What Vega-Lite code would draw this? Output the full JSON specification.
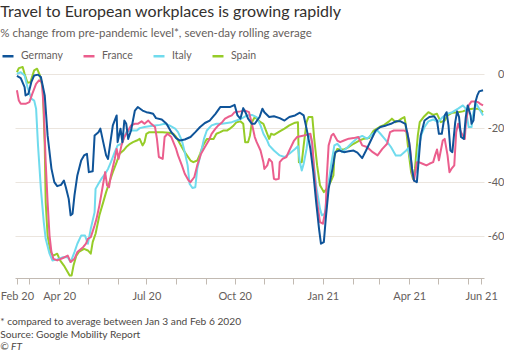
{
"$schema": "https://vega.github.io/schema/vega-lite/v6.json",
"padding": {"left": 0, "top": 3, "right": 0, "bottom": 0},
"background": "white",
"config": {"font": "Lato", "view": {"stroke": null}},
"title": {"text": "Travel to European workplaces is growing rapidly", "subtitle": "% change from pre-pandemic level*, seven-day rolling average", "anchor": "start", "fontSize": 16, "fontWeight": "normal", "color": "#33302e", "subtitleFontSize": 11.5, "subtitleColor": "#66605c", "subtitlePadding": 8, "offset": 10},
"vconcat": [{
"width": 469, "height": 212,
"title": {"text": ["* compared to average between Jan 3 and Feb 6 2020", "Source: Google Mobility Report"], "subtitle": "© FT", "orient": "bottom", "anchor": "start", "fontSize": 10.2, "fontWeight": "normal", "color": "#4d4845", "lineHeight": 13, "subtitleFontSize": 10.2, "subtitleFontStyle": "italic", "subtitleColor": "#4d4845", "subtitlePadding": 2, "subtitleLineHeight": 13, "offset": 16},
"data": {"values": [
{"c":"Spain","d":"2020-02-17","v":0.7},{"c":"Spain","d":"2020-02-19","v":2.2},{"c":"Spain","d":"2020-02-23","v":2.6},{"c":"Spain","d":"2020-02-25","v":0.1},{"c":"Spain","d":"2020-02-28","v":-3.2},{"c":"Spain","d":"2020-03-02","v":-3},{"c":"Spain","d":"2020-03-06","v":1.4},{"c":"Spain","d":"2020-03-09","v":2},{"c":"Spain","d":"2020-03-12","v":-0.5},{"c":"Spain","d":"2020-03-15","v":-5.4},{"c":"Spain","d":"2020-03-17","v":-26.4},{"c":"Spain","d":"2020-03-18","v":-47.4},{"c":"Spain","d":"2020-03-20","v":-59.8},{"c":"Spain","d":"2020-03-23","v":-65.9},{"c":"Spain","d":"2020-03-26","v":-67.2},{"c":"Spain","d":"2020-03-30","v":-66.5},{"c":"Spain","d":"2020-04-02","v":-69},{"c":"Spain","d":"2020-04-06","v":-70.9},{"c":"Spain","d":"2020-04-09","v":-72.7},{"c":"Spain","d":"2020-04-12","v":-74.6},{"c":"Spain","d":"2020-04-14","v":-74.6},{"c":"Spain","d":"2020-04-16","v":-70.9},{"c":"Spain","d":"2020-04-19","v":-67.2},{"c":"Spain","d":"2020-04-22","v":-65.7},{"c":"Spain","d":"2020-04-27","v":-64.7},{"c":"Spain","d":"2020-05-01","v":-65.3},{"c":"Spain","d":"2020-05-04","v":-66.5},{"c":"Spain","d":"2020-05-06","v":-62.2},{"c":"Spain","d":"2020-05-09","v":-59.1},{"c":"Spain","d":"2020-05-13","v":-52.3},{"c":"Spain","d":"2020-05-17","v":-47.4},{"c":"Spain","d":"2020-05-20","v":-43.7},{"c":"Spain","d":"2020-05-24","v":-39.4},{"c":"Spain","d":"2020-05-27","v":-36.3},{"c":"Spain","d":"2020-05-31","v":-32.6},{"c":"Spain","d":"2020-06-03","v":-29.5},{"c":"Spain","d":"2020-06-07","v":-28.3},{"c":"Spain","d":"2020-06-10","v":-27},{"c":"Spain","d":"2020-06-14","v":-25.8},{"c":"Spain","d":"2020-06-17","v":-25.2},{"c":"Spain","d":"2020-06-21","v":-24.6},{"c":"Spain","d":"2020-06-24","v":-24},{"c":"Spain","d":"2020-06-27","v":-26.4},{"c":"Spain","d":"2020-06-29","v":-25.2},{"c":"Spain","d":"2020-07-01","v":-22.1},{"c":"Spain","d":"2020-07-04","v":-21.5},{"c":"Spain","d":"2020-07-08","v":-21.5},{"c":"Spain","d":"2020-07-13","v":-21.5},{"c":"Spain","d":"2020-07-18","v":-21.5},{"c":"Spain","d":"2020-07-24","v":-21.7},{"c":"Spain","d":"2020-07-29","v":-22.1},{"c":"Spain","d":"2020-08-01","v":-23.3},{"c":"Spain","d":"2020-08-05","v":-25.8},{"c":"Spain","d":"2020-08-10","v":-28.9},{"c":"Spain","d":"2020-08-16","v":-32},{"c":"Spain","d":"2020-08-19","v":-32.6},{"c":"Spain","d":"2020-08-23","v":-32},{"c":"Spain","d":"2020-08-26","v":-29.5},{"c":"Spain","d":"2020-08-29","v":-26.4},{"c":"Spain","d":"2020-09-02","v":-24},{"c":"Spain","d":"2020-09-05","v":-24},{"c":"Spain","d":"2020-09-09","v":-24},{"c":"Spain","d":"2020-09-12","v":-22.1},{"c":"Spain","d":"2020-09-16","v":-21.5},{"c":"Spain","d":"2020-09-19","v":-20.9},{"c":"Spain","d":"2020-09-23","v":-20.9},{"c":"Spain","d":"2020-09-26","v":-20.2},{"c":"Spain","d":"2020-09-30","v":-19},{"c":"Spain","d":"2020-10-03","v":-17.8},{"c":"Spain","d":"2020-10-07","v":-17.5},{"c":"Spain","d":"2020-10-10","v":-18.4},{"c":"Spain","d":"2020-10-12","v":-25.2},{"c":"Spain","d":"2020-10-15","v":-25.2},{"c":"Spain","d":"2020-10-17","v":-22.7},{"c":"Spain","d":"2020-10-19","v":-17.8},{"c":"Spain","d":"2020-10-22","v":-15.9},{"c":"Spain","d":"2020-10-24","v":-16.5},{"c":"Spain","d":"2020-10-28","v":-17.8},{"c":"Spain","d":"2020-10-31","v":-18.4},{"c":"Spain","d":"2020-11-04","v":-22.1},{"c":"Spain","d":"2020-11-06","v":-24},{"c":"Spain","d":"2020-11-08","v":-22.1},{"c":"Spain","d":"2020-11-11","v":-22.5},{"c":"Spain","d":"2020-11-17","v":-21.2},{"c":"Spain","d":"2020-11-22","v":-20.2},{"c":"Spain","d":"2020-11-27","v":-19},{"c":"Spain","d":"2020-12-03","v":-18},{"c":"Spain","d":"2020-12-06","v":-17.8},{"c":"Spain","d":"2020-12-07","v":-32.6},{"c":"Spain","d":"2020-12-10","v":-32.6},{"c":"Spain","d":"2020-12-12","v":-26.4},{"c":"Spain","d":"2020-12-15","v":-17.8},{"c":"Spain","d":"2020-12-17","v":-15.9},{"c":"Spain","d":"2020-12-21","v":-15.9},{"c":"Spain","d":"2020-12-23","v":-24},{"c":"Spain","d":"2020-12-26","v":-33.8},{"c":"Spain","d":"2020-12-29","v":-41.2},{"c":"Spain","d":"2021-01-02","v":-43.7},{"c":"Spain","d":"2021-01-05","v":-42.5},{"c":"Spain","d":"2021-01-09","v":-40},{"c":"Spain","d":"2021-01-12","v":-37.5},{"c":"Spain","d":"2021-01-13","v":-30.1},{"c":"Spain","d":"2021-01-16","v":-27.7},{"c":"Spain","d":"2021-01-19","v":-27.9},{"c":"Spain","d":"2021-01-23","v":-27.9},{"c":"Spain","d":"2021-01-28","v":-27},{"c":"Spain","d":"2021-02-02","v":-25.8},{"c":"Spain","d":"2021-02-08","v":-24.6},{"c":"Spain","d":"2021-02-13","v":-23.9},{"c":"Spain","d":"2021-02-18","v":-23.7},{"c":"Spain","d":"2021-02-23","v":-20.9},{"c":"Spain","d":"2021-03-01","v":-19.6},{"c":"Spain","d":"2021-03-06","v":-18.8},{"c":"Spain","d":"2021-03-11","v":-17.5},{"c":"Spain","d":"2021-03-14","v":-16.5},{"c":"Spain","d":"2021-03-18","v":-17.8},{"c":"Spain","d":"2021-03-21","v":-17.2},{"c":"Spain","d":"2021-03-24","v":-16.5},{"c":"Spain","d":"2021-03-27","v":-15.9},{"c":"Spain","d":"2021-03-28","v":-17.8},{"c":"Spain","d":"2021-03-31","v":-27.7},{"c":"Spain","d":"2021-04-03","v":-36.3},{"c":"Spain","d":"2021-04-05","v":-38.8},{"c":"Spain","d":"2021-04-07","v":-35.1},{"c":"Spain","d":"2021-04-10","v":-22.7},{"c":"Spain","d":"2021-04-12","v":-17.8},{"c":"Spain","d":"2021-04-16","v":-15.9},{"c":"Spain","d":"2021-04-21","v":-14.1},{"c":"Spain","d":"2021-04-26","v":-15.1},{"c":"Spain","d":"2021-04-30","v":-14.7},{"c":"Spain","d":"2021-05-04","v":-17.8},{"c":"Spain","d":"2021-05-08","v":-17.2},{"c":"Spain","d":"2021-05-11","v":-15.3},{"c":"Spain","d":"2021-05-16","v":-14.3},{"c":"Spain","d":"2021-05-22","v":-14.1},{"c":"Spain","d":"2021-05-27","v":-13.8},{"c":"Spain","d":"2021-06-01","v":-13.1},{"c":"Spain","d":"2021-06-06","v":-12.8},{"c":"Spain","d":"2021-06-12","v":-12.8},{"c":"Spain","d":"2021-06-17","v":-14.1},
{"c":"Italy","d":"2020-02-17","v":0.1},{"c":"Italy","d":"2020-02-21","v":0.7},{"c":"Italy","d":"2020-02-25","v":-0.5},{"c":"Italy","d":"2020-02-28","v":-4.8},{"c":"Italy","d":"2020-03-03","v":-9.1},{"c":"Italy","d":"2020-03-06","v":-9.8},{"c":"Italy","d":"2020-03-08","v":-12.8},{"c":"Italy","d":"2020-03-10","v":-26.4},{"c":"Italy","d":"2020-03-13","v":-42.5},{"c":"Italy","d":"2020-03-16","v":-54.8},{"c":"Italy","d":"2020-03-18","v":-61},{"c":"Italy","d":"2020-03-22","v":-66.5},{"c":"Italy","d":"2020-03-25","v":-69},{"c":"Italy","d":"2020-03-30","v":-68.6},{"c":"Italy","d":"2020-04-05","v":-67.8},{"c":"Italy","d":"2020-04-10","v":-67.8},{"c":"Italy","d":"2020-04-13","v":-69.6},{"c":"Italy","d":"2020-04-17","v":-65.9},{"c":"Italy","d":"2020-04-20","v":-62.8},{"c":"Italy","d":"2020-04-24","v":-59.8},{"c":"Italy","d":"2020-04-28","v":-59.8},{"c":"Italy","d":"2020-05-01","v":-62.8},{"c":"Italy","d":"2020-05-04","v":-57.3},{"c":"Italy","d":"2020-05-08","v":-51.1},{"c":"Italy","d":"2020-05-09","v":-42.5},{"c":"Italy","d":"2020-05-12","v":-40.6},{"c":"Italy","d":"2020-05-15","v":-38.8},{"c":"Italy","d":"2020-05-19","v":-36.9},{"c":"Italy","d":"2020-05-22","v":-35.1},{"c":"Italy","d":"2020-05-25","v":-32.6},{"c":"Italy","d":"2020-05-29","v":-28.9},{"c":"Italy","d":"2020-06-01","v":-26.4},{"c":"Italy","d":"2020-06-05","v":-25.8},{"c":"Italy","d":"2020-06-08","v":-23.3},{"c":"Italy","d":"2020-06-10","v":-21.5},{"c":"Italy","d":"2020-06-14","v":-20.9},{"c":"Italy","d":"2020-06-17","v":-20.9},{"c":"Italy","d":"2020-06-21","v":-20.9},{"c":"Italy","d":"2020-06-24","v":-20},{"c":"Italy","d":"2020-06-29","v":-19.6},{"c":"Italy","d":"2020-07-04","v":-19.3},{"c":"Italy","d":"2020-07-10","v":-19},{"c":"Italy","d":"2020-07-15","v":-18.8},{"c":"Italy","d":"2020-07-20","v":-18.4},{"c":"Italy","d":"2020-07-25","v":-19},{"c":"Italy","d":"2020-07-31","v":-20.2},{"c":"Italy","d":"2020-08-03","v":-21.5},{"c":"Italy","d":"2020-08-07","v":-24.6},{"c":"Italy","d":"2020-08-10","v":-28.9},{"c":"Italy","d":"2020-08-13","v":-33.8},{"c":"Italy","d":"2020-08-15","v":-40.6},{"c":"Italy","d":"2020-08-18","v":-42.2},{"c":"Italy","d":"2020-08-21","v":-41.9},{"c":"Italy","d":"2020-08-23","v":-35.1},{"c":"Italy","d":"2020-08-27","v":-28.9},{"c":"Italy","d":"2020-08-30","v":-24},{"c":"Italy","d":"2020-09-02","v":-20.9},{"c":"Italy","d":"2020-09-07","v":-19},{"c":"Italy","d":"2020-09-12","v":-18.4},{"c":"Italy","d":"2020-09-18","v":-18.4},{"c":"Italy","d":"2020-09-23","v":-18.1},{"c":"Italy","d":"2020-09-28","v":-17.8},{"c":"Italy","d":"2020-10-03","v":-17.2},{"c":"Italy","d":"2020-10-08","v":-16.5},{"c":"Italy","d":"2020-10-14","v":-15.3},{"c":"Italy","d":"2020-10-19","v":-15.1},{"c":"Italy","d":"2020-10-24","v":-15.9},{"c":"Italy","d":"2020-10-28","v":-19},{"c":"Italy","d":"2020-10-31","v":-22.1},{"c":"Italy","d":"2020-11-04","v":-24.6},{"c":"Italy","d":"2020-11-06","v":-26.4},{"c":"Italy","d":"2020-11-11","v":-28.3},{"c":"Italy","d":"2020-11-17","v":-30.1},{"c":"Italy","d":"2020-11-22","v":-30.7},{"c":"Italy","d":"2020-11-27","v":-29.5},{"c":"Italy","d":"2020-12-03","v":-27.7},{"c":"Italy","d":"2020-12-06","v":-26.7},{"c":"Italy","d":"2020-12-08","v":-32.6},{"c":"Italy","d":"2020-12-10","v":-35.7},{"c":"Italy","d":"2020-12-12","v":-33.2},{"c":"Italy","d":"2020-12-15","v":-27.7},{"c":"Italy","d":"2020-12-17","v":-22.1},{"c":"Italy","d":"2020-12-20","v":-24},{"c":"Italy","d":"2020-12-22","v":-31.4},{"c":"Italy","d":"2020-12-25","v":-41.2},{"c":"Italy","d":"2020-12-29","v":-49.9},{"c":"Italy","d":"2020-12-31","v":-52.3},{"c":"Italy","d":"2021-01-03","v":-51.7},{"c":"Italy","d":"2021-01-06","v":-42.5},{"c":"Italy","d":"2021-01-10","v":-32.6},{"c":"Italy","d":"2021-01-13","v":-26.4},{"c":"Italy","d":"2021-01-16","v":-25.8},{"c":"Italy","d":"2021-01-19","v":-27},{"c":"Italy","d":"2021-01-21","v":-28.9},{"c":"Italy","d":"2021-01-27","v":-27},{"c":"Italy","d":"2021-02-01","v":-25.2},{"c":"Italy","d":"2021-02-06","v":-23.7},{"c":"Italy","d":"2021-02-11","v":-22.9},{"c":"Italy","d":"2021-02-16","v":-23.9},{"c":"Italy","d":"2021-02-22","v":-22.1},{"c":"Italy","d":"2021-02-27","v":-20.9},{"c":"Italy","d":"2021-03-02","v":-22.1},{"c":"Italy","d":"2021-03-08","v":-24.6},{"c":"Italy","d":"2021-03-13","v":-27},{"c":"Italy","d":"2021-03-18","v":-30.1},{"c":"Italy","d":"2021-03-23","v":-30.1},{"c":"Italy","d":"2021-03-28","v":-28.6},{"c":"Italy","d":"2021-03-31","v":-27.4},{"c":"Italy","d":"2021-04-03","v":-32.6},{"c":"Italy","d":"2021-04-05","v":-38.1},{"c":"Italy","d":"2021-04-08","v":-36.3},{"c":"Italy","d":"2021-04-11","v":-27},{"c":"Italy","d":"2021-04-14","v":-22.1},{"c":"Italy","d":"2021-04-17","v":-19.6},{"c":"Italy","d":"2021-04-21","v":-17.5},{"c":"Italy","d":"2021-04-26","v":-16.8},{"c":"Italy","d":"2021-05-01","v":-17.8},{"c":"Italy","d":"2021-05-06","v":-15.9},{"c":"Italy","d":"2021-05-11","v":-14.7},{"c":"Italy","d":"2021-05-16","v":-14.1},{"c":"Italy","d":"2021-05-22","v":-12.8},{"c":"Italy","d":"2021-05-27","v":-11.6},{"c":"Italy","d":"2021-05-30","v":-12.8},{"c":"Italy","d":"2021-06-02","v":-19.6},{"c":"Italy","d":"2021-06-05","v":-19.6},{"c":"Italy","d":"2021-06-07","v":-14.1},{"c":"Italy","d":"2021-06-10","v":-11},{"c":"Italy","d":"2021-06-13","v":-12.8},{"c":"Italy","d":"2021-06-17","v":-15.3},
{"c":"France","d":"2020-02-17","v":-6},{"c":"France","d":"2020-02-19","v":-9.8},{"c":"France","d":"2020-02-21","v":-11},{"c":"France","d":"2020-02-26","v":-11},{"c":"France","d":"2020-03-01","v":-10.4},{"c":"France","d":"2020-03-04","v":-7.3},{"c":"France","d":"2020-03-08","v":-3.6},{"c":"France","d":"2020-03-11","v":-2.3},{"c":"France","d":"2020-03-14","v":-3},{"c":"France","d":"2020-03-16","v":-12.8},{"c":"France","d":"2020-03-18","v":-32.6},{"c":"France","d":"2020-03-20","v":-47.4},{"c":"France","d":"2020-03-22","v":-59.8},{"c":"France","d":"2020-03-24","v":-65.9},{"c":"France","d":"2020-03-26","v":-68.4},{"c":"France","d":"2020-03-30","v":-69},{"c":"France","d":"2020-04-05","v":-68.1},{"c":"France","d":"2020-04-10","v":-67.2},{"c":"France","d":"2020-04-13","v":-69.6},{"c":"France","d":"2020-04-17","v":-68.4},{"c":"France","d":"2020-04-20","v":-65.9},{"c":"France","d":"2020-04-26","v":-64.1},{"c":"France","d":"2020-04-29","v":-62.8},{"c":"France","d":"2020-05-01","v":-61},{"c":"France","d":"2020-05-04","v":-60.4},{"c":"France","d":"2020-05-08","v":-56},{"c":"France","d":"2020-05-10","v":-53.6},{"c":"France","d":"2020-05-13","v":-48.6},{"c":"France","d":"2020-05-16","v":-42.5},{"c":"France","d":"2020-05-19","v":-36.3},{"c":"France","d":"2020-05-21","v":-41.2},{"c":"France","d":"2020-05-23","v":-41.9},{"c":"France","d":"2020-05-25","v":-37.5},{"c":"France","d":"2020-05-29","v":-31.4},{"c":"France","d":"2020-05-31","v":-27.7},{"c":"France","d":"2020-06-02","v":-31.4},{"c":"France","d":"2020-06-05","v":-26.4},{"c":"France","d":"2020-06-08","v":-23.3},{"c":"France","d":"2020-06-12","v":-20.9},{"c":"France","d":"2020-06-15","v":-19},{"c":"France","d":"2020-06-19","v":-18.4},{"c":"France","d":"2020-06-22","v":-18.4},{"c":"France","d":"2020-06-26","v":-17.5},{"c":"France","d":"2020-06-29","v":-18.4},{"c":"France","d":"2020-07-03","v":-17.2},{"c":"France","d":"2020-07-06","v":-18.4},{"c":"France","d":"2020-07-10","v":-19.6},{"c":"France","d":"2020-07-12","v":-24},{"c":"France","d":"2020-07-14","v":-30.7},{"c":"France","d":"2020-07-18","v":-31.4},{"c":"France","d":"2020-07-20","v":-23.3},{"c":"France","d":"2020-07-23","v":-22.1},{"c":"France","d":"2020-07-27","v":-23.3},{"c":"France","d":"2020-08-01","v":-27.7},{"c":"France","d":"2020-08-03","v":-30.1},{"c":"France","d":"2020-08-07","v":-33.8},{"c":"France","d":"2020-08-10","v":-36.9},{"c":"France","d":"2020-08-14","v":-39.4},{"c":"France","d":"2020-08-16","v":-40},{"c":"France","d":"2020-08-20","v":-38.1},{"c":"France","d":"2020-08-23","v":-33.8},{"c":"France","d":"2020-08-27","v":-29.5},{"c":"France","d":"2020-08-31","v":-27},{"c":"France","d":"2020-09-04","v":-24.6},{"c":"France","d":"2020-09-07","v":-22.1},{"c":"France","d":"2020-09-11","v":-20.2},{"c":"France","d":"2020-09-14","v":-19},{"c":"France","d":"2020-09-18","v":-17.8},{"c":"France","d":"2020-09-21","v":-16.5},{"c":"France","d":"2020-09-24","v":-15.9},{"c":"France","d":"2020-09-28","v":-15.3},{"c":"France","d":"2020-10-01","v":-14.1},{"c":"France","d":"2020-10-07","v":-13.8},{"c":"France","d":"2020-10-12","v":-13.5},{"c":"France","d":"2020-10-16","v":-14.1},{"c":"France","d":"2020-10-19","v":-18.4},{"c":"France","d":"2020-10-22","v":-23.3},{"c":"France","d":"2020-10-24","v":-25.2},{"c":"France","d":"2020-10-28","v":-28.3},{"c":"France","d":"2020-10-31","v":-32.6},{"c":"France","d":"2020-11-01","v":-35.1},{"c":"France","d":"2020-11-04","v":-33.8},{"c":"France","d":"2020-11-06","v":-31.4},{"c":"France","d":"2020-11-09","v":-32.6},{"c":"France","d":"2020-11-11","v":-38.8},{"c":"France","d":"2020-11-13","v":-39},{"c":"France","d":"2020-11-16","v":-38.8},{"c":"France","d":"2020-11-17","v":-32.6},{"c":"France","d":"2020-11-20","v":-31.4},{"c":"France","d":"2020-11-24","v":-30.7},{"c":"France","d":"2020-11-27","v":-28.3},{"c":"France","d":"2020-12-02","v":-24.6},{"c":"France","d":"2020-12-05","v":-23.3},{"c":"France","d":"2020-12-10","v":-22.9},{"c":"France","d":"2020-12-15","v":-22.5},{"c":"France","d":"2020-12-19","v":-22.1},{"c":"France","d":"2020-12-21","v":-25.8},{"c":"France","d":"2020-12-23","v":-36.3},{"c":"France","d":"2020-12-26","v":-47.4},{"c":"France","d":"2020-12-29","v":-54.8},{"c":"France","d":"2021-01-01","v":-55.4},{"c":"France","d":"2021-01-04","v":-49.9},{"c":"France","d":"2021-01-05","v":-38.8},{"c":"France","d":"2021-01-07","v":-26.4},{"c":"France","d":"2021-01-10","v":-22.7},{"c":"France","d":"2021-01-12","v":-22.1},{"c":"France","d":"2021-01-16","v":-24.6},{"c":"France","d":"2021-01-19","v":-25.2},{"c":"France","d":"2021-01-23","v":-24.6},{"c":"France","d":"2021-01-28","v":-23.9},{"c":"France","d":"2021-02-02","v":-23.7},{"c":"France","d":"2021-02-07","v":-23.3},{"c":"France","d":"2021-02-11","v":-26.4},{"c":"France","d":"2021-02-16","v":-27},{"c":"France","d":"2021-02-22","v":-28.9},{"c":"France","d":"2021-02-27","v":-30.1},{"c":"France","d":"2021-03-04","v":-27.7},{"c":"France","d":"2021-03-09","v":-25.8},{"c":"France","d":"2021-03-12","v":-21.5},{"c":"France","d":"2021-03-16","v":-20.9},{"c":"France","d":"2021-03-21","v":-20.9},{"c":"France","d":"2021-03-27","v":-20.9},{"c":"France","d":"2021-03-30","v":-21.5},{"c":"France","d":"2021-04-02","v":-27.7},{"c":"France","d":"2021-04-04","v":-36.3},{"c":"France","d":"2021-04-06","v":-39.4},{"c":"France","d":"2021-04-09","v":-32.6},{"c":"France","d":"2021-04-11","v":-32.6},{"c":"France","d":"2021-04-15","v":-33.2},{"c":"France","d":"2021-04-19","v":-33.8},{"c":"France","d":"2021-04-22","v":-33.2},{"c":"France","d":"2021-04-26","v":-32.6},{"c":"France","d":"2021-04-28","v":-30.1},{"c":"France","d":"2021-04-30","v":-27.9},{"c":"France","d":"2021-05-02","v":-31.9},{"c":"France","d":"2021-05-06","v":-24.6},{"c":"France","d":"2021-05-08","v":-24},{"c":"France","d":"2021-05-11","v":-30.1},{"c":"France","d":"2021-05-13","v":-36.3},{"c":"France","d":"2021-05-15","v":-35.1},{"c":"France","d":"2021-05-18","v":-33.8},{"c":"France","d":"2021-05-20","v":-21.5},{"c":"France","d":"2021-05-22","v":-18.4},{"c":"France","d":"2021-05-25","v":-21.5},{"c":"France","d":"2021-05-29","v":-24},{"c":"France","d":"2021-05-30","v":-18.4},{"c":"France","d":"2021-06-02","v":-11.6},{"c":"France","d":"2021-06-05","v":-10.1},{"c":"France","d":"2021-06-08","v":-10.1},{"c":"France","d":"2021-06-12","v":-10.4},{"c":"France","d":"2021-06-14","v":-11},{"c":"France","d":"2021-06-17","v":-11.6},
{"c":"Germany","d":"2020-02-17","v":-0.7},{"c":"Germany","d":"2020-02-21","v":-1.5},{"c":"Germany","d":"2020-02-25","v":-4.8},{"c":"Germany","d":"2020-02-26","v":-7.9},{"c":"Germany","d":"2020-02-29","v":-7.3},{"c":"Germany","d":"2020-03-03","v":-3},{"c":"Germany","d":"2020-03-06","v":-0.5},{"c":"Germany","d":"2020-03-10","v":-0.2},{"c":"Germany","d":"2020-03-13","v":-1.1},{"c":"Germany","d":"2020-03-17","v":-7.9},{"c":"Germany","d":"2020-03-20","v":-22.7},{"c":"Germany","d":"2020-03-24","v":-35},{"c":"Germany","d":"2020-03-27","v":-40},{"c":"Germany","d":"2020-03-30","v":-41.5},{"c":"Germany","d":"2020-04-03","v":-41},{"c":"Germany","d":"2020-04-06","v":-39.4},{"c":"Germany","d":"2020-04-08","v":-41.9},{"c":"Germany","d":"2020-04-11","v":-46.2},{"c":"Germany","d":"2020-04-13","v":-52.3},{"c":"Germany","d":"2020-04-15","v":-51.7},{"c":"Germany","d":"2020-04-17","v":-44.9},{"c":"Germany","d":"2020-04-20","v":-37.5},{"c":"Germany","d":"2020-04-24","v":-32},{"c":"Germany","d":"2020-04-27","v":-30.1},{"c":"Germany","d":"2020-04-30","v":-29.5},{"c":"Germany","d":"2020-05-02","v":-36.3},{"c":"Germany","d":"2020-05-06","v":-36},{"c":"Germany","d":"2020-05-08","v":-22.7},{"c":"Germany","d":"2020-05-12","v":-21.5},{"c":"Germany","d":"2020-05-14","v":-20.2},{"c":"Germany","d":"2020-05-17","v":-25.2},{"c":"Germany","d":"2020-05-20","v":-30.1},{"c":"Germany","d":"2020-05-22","v":-31.4},{"c":"Germany","d":"2020-05-24","v":-26.4},{"c":"Germany","d":"2020-05-27","v":-19},{"c":"Germany","d":"2020-05-31","v":-15.3},{"c":"Germany","d":"2020-06-01","v":-25.2},{"c":"Germany","d":"2020-06-04","v":-20.2},{"c":"Germany","d":"2020-06-06","v":-25.2},{"c":"Germany","d":"2020-06-08","v":-17.2},{"c":"Germany","d":"2020-06-10","v":-18.4},{"c":"Germany","d":"2020-06-12","v":-24},{"c":"Germany","d":"2020-06-15","v":-20.9},{"c":"Germany","d":"2020-06-19","v":-13.5},{"c":"Germany","d":"2020-06-22","v":-12.2},{"c":"Germany","d":"2020-06-27","v":-13.5},{"c":"Germany","d":"2020-07-01","v":-14.1},{"c":"Germany","d":"2020-07-04","v":-14.3},{"c":"Germany","d":"2020-07-08","v":-14.7},{"c":"Germany","d":"2020-07-11","v":-16.3},{"c":"Germany","d":"2020-07-17","v":-16.8},{"c":"Germany","d":"2020-07-22","v":-18.4},{"c":"Germany","d":"2020-07-27","v":-21.5},{"c":"Germany","d":"2020-08-01","v":-23.7},{"c":"Germany","d":"2020-08-05","v":-24.6},{"c":"Germany","d":"2020-08-10","v":-24.2},{"c":"Germany","d":"2020-08-16","v":-23.3},{"c":"Germany","d":"2020-08-21","v":-21.5},{"c":"Germany","d":"2020-08-26","v":-19.6},{"c":"Germany","d":"2020-08-31","v":-18.1},{"c":"Germany","d":"2020-09-05","v":-17.2},{"c":"Germany","d":"2020-09-11","v":-14.7},{"c":"Germany","d":"2020-09-16","v":-12.2},{"c":"Germany","d":"2020-09-21","v":-12.2},{"c":"Germany","d":"2020-09-26","v":-12.2},{"c":"Germany","d":"2020-10-01","v":-11.4},{"c":"Germany","d":"2020-10-04","v":-15.3},{"c":"Germany","d":"2020-10-07","v":-16.5},{"c":"Germany","d":"2020-10-10","v":-12.6},{"c":"Germany","d":"2020-10-13","v":-14.7},{"c":"Germany","d":"2020-10-15","v":-16.5},{"c":"Germany","d":"2020-10-19","v":-18.4},{"c":"Germany","d":"2020-10-22","v":-18.4},{"c":"Germany","d":"2020-10-27","v":-15.9},{"c":"Germany","d":"2020-10-30","v":-12.8},{"c":"Germany","d":"2020-11-01","v":-14.1},{"c":"Germany","d":"2020-11-06","v":-15.9},{"c":"Germany","d":"2020-11-11","v":-15.6},{"c":"Germany","d":"2020-11-17","v":-16.3},{"c":"Germany","d":"2020-11-22","v":-17.2},{"c":"Germany","d":"2020-11-27","v":-15.9},{"c":"Germany","d":"2020-12-03","v":-15.3},{"c":"Germany","d":"2020-12-08","v":-14.3},{"c":"Germany","d":"2020-12-12","v":-15.3},{"c":"Germany","d":"2020-12-15","v":-20.2},{"c":"Germany","d":"2020-12-19","v":-27.7},{"c":"Germany","d":"2020-12-22","v":-36.3},{"c":"Germany","d":"2020-12-25","v":-47.4},{"c":"Germany","d":"2020-12-28","v":-57.3},{"c":"Germany","d":"2020-12-30","v":-62.8},{"c":"Germany","d":"2021-01-02","v":-62.2},{"c":"Germany","d":"2021-01-04","v":-53.6},{"c":"Germany","d":"2021-01-07","v":-42.5},{"c":"Germany","d":"2021-01-11","v":-35.1},{"c":"Germany","d":"2021-01-14","v":-28.9},{"c":"Germany","d":"2021-01-18","v":-28.3},{"c":"Germany","d":"2021-01-23","v":-28.9},{"c":"Germany","d":"2021-01-28","v":-28.6},{"c":"Germany","d":"2021-02-02","v":-28.3},{"c":"Germany","d":"2021-02-06","v":-29.1},{"c":"Germany","d":"2021-02-11","v":-31.1},{"c":"Germany","d":"2021-02-15","v":-28.3},{"c":"Germany","d":"2021-02-20","v":-24.6},{"c":"Germany","d":"2021-02-25","v":-20.9},{"c":"Germany","d":"2021-03-02","v":-19.6},{"c":"Germany","d":"2021-03-08","v":-19},{"c":"Germany","d":"2021-03-13","v":-18.4},{"c":"Germany","d":"2021-03-18","v":-17.5},{"c":"Germany","d":"2021-03-23","v":-17.5},{"c":"Germany","d":"2021-03-28","v":-18.4},{"c":"Germany","d":"2021-04-01","v":-25.2},{"c":"Germany","d":"2021-04-04","v":-35.1},{"c":"Germany","d":"2021-04-06","v":-39.4},{"c":"Germany","d":"2021-04-09","v":-40},{"c":"Germany","d":"2021-04-11","v":-31.4},{"c":"Germany","d":"2021-04-13","v":-22.7},{"c":"Germany","d":"2021-04-17","v":-17.2},{"c":"Germany","d":"2021-04-22","v":-15.9},{"c":"Germany","d":"2021-04-27","v":-15.6},{"c":"Germany","d":"2021-04-30","v":-17.2},{"c":"Germany","d":"2021-05-02","v":-22.1},{"c":"Germany","d":"2021-05-05","v":-22.1},{"c":"Germany","d":"2021-05-08","v":-15.3},{"c":"Germany","d":"2021-05-10","v":-14.1},{"c":"Germany","d":"2021-05-12","v":-19},{"c":"Germany","d":"2021-05-14","v":-28.3},{"c":"Germany","d":"2021-05-16","v":-28.9},{"c":"Germany","d":"2021-05-19","v":-17.8},{"c":"Germany","d":"2021-05-21","v":-13.8},{"c":"Germany","d":"2021-05-23","v":-15.9},{"c":"Germany","d":"2021-05-25","v":-23.3},{"c":"Germany","d":"2021-05-28","v":-24},{"c":"Germany","d":"2021-05-30","v":-15.9},{"c":"Germany","d":"2021-06-01","v":-11.6},{"c":"Germany","d":"2021-06-04","v":-15.3},{"c":"Germany","d":"2021-06-05","v":-18.4},{"c":"Germany","d":"2021-06-07","v":-17.2},{"c":"Germany","d":"2021-06-09","v":-10.4},{"c":"Germany","d":"2021-06-11","v":-7.9},{"c":"Germany","d":"2021-06-13","v":-6.4},{"c":"Germany","d":"2021-06-17","v":-6}
]},
"mark": {"type": "line", "strokeWidth": 2, "strokeJoin": "round"},
"encoding": {
"x": {"field": "d", "type": "temporal",
 "scale": {"type": "utc", "domain": [{"year": 2020, "month": 2, "date": 15, "utc": true}, {"year": 2021, "month": 6, "date": 18, "utc": true}]},
 "axis": {"title": null, "grid": false, "values": [{"year":2020,"month":2,"date":17,"utc":true},{"year":2020,"month":3,"date":1,"utc":true},{"year":2020,"month":4,"date":1,"utc":true},{"year":2020,"month":5,"date":1,"utc":true},{"year":2020,"month":6,"date":1,"utc":true},{"year":2020,"month":7,"date":1,"utc":true},{"year":2020,"month":8,"date":1,"utc":true},{"year":2020,"month":9,"date":1,"utc":true},{"year":2020,"month":10,"date":1,"utc":true},{"year":2020,"month":11,"date":1,"utc":true},{"year":2020,"month":12,"date":1,"utc":true},{"year":2021,"month":1,"date":1,"utc":true},{"year":2021,"month":2,"date":1,"utc":true},{"year":2021,"month":3,"date":1,"utc":true},{"year":2021,"month":4,"date":1,"utc":true},{"year":2021,"month":5,"date":1,"utc":true},{"year":2021,"month":6,"date":1,"utc":true},{"year":2021,"month":6,"date":15,"utc":true}],
 "labelExpr": "(utcdate(datum.value) != 1 || indexof([0,3,6,9], utcmonth(datum.value)) >= 0) ? utcFormat(datum.value, '%b %y') : ''",
 "labelFlush": false, "labelOverlap": false, "domainColor": "#c2bab2", "tickColor": "#c2bab2", "tickSize": 6, "labelColor": "#66605c", "labelFontSize": 11, "labelPadding": 6}},
"y": {"field": "v", "type": "quantitative",
 "scale": {"domain": [-75.5, 3], "nice": false, "zero": false},
 "axis": {"title": null, "orient": "right", "values": [0, -20, -40, -60], "domain": false, "ticks": false, "grid": true, "gridColor": "#ebe5de", "labelAlign": "right", "labelPadding": 20, "labelColor": "#66605c", "labelFontSize": 11, "labelExpr": "datum.value + ''"}},
"color": {"field": "c", "type": "nominal",
 "scale": {"domain": ["Germany", "France", "Italy", "Spain"], "range": ["#0f5499", "#eb5e8d", "#70dbed", "#96cc28"]},
 "legend": {"title": null, "orient": "none", "legendX": -14, "legendY": -17, "direction": "horizontal", "symbolType": "stroke", "symbolStrokeWidth": 2.5, "symbolSize": 121, "labelFontSize": 10.5, "labelColor": "#66605c", "columnPadding": 15, "labelOffset": 6}}
}
}]
}
